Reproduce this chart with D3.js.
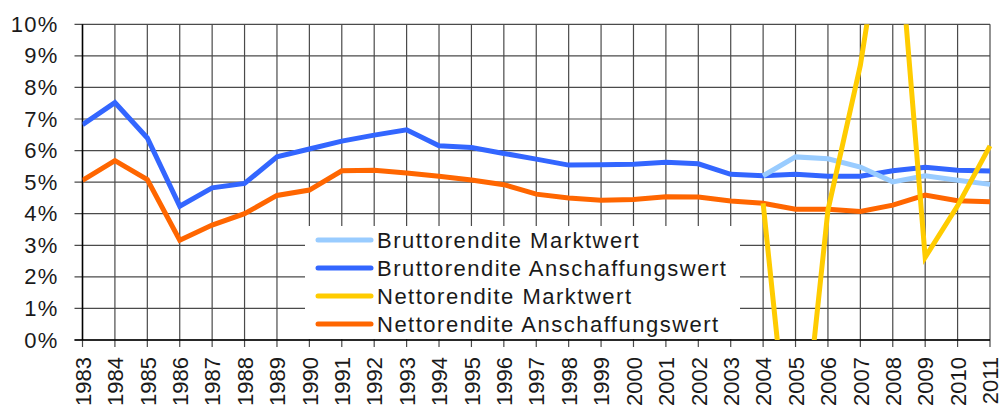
<!DOCTYPE html>
<html>
<head>
<meta charset="utf-8">
<script src="https://cdn.jsdelivr.net/npm/d3@7"></script>
<style>
  html, body { margin: 0; padding: 0; background: #fff; }
  svg { display: block; font-family: "Liberation Sans", Arial, sans-serif; }
</style>
</head>
<body>
<svg id="chart" width="999" height="405"></svg>
<script>
const years = d3.range(1983, 2012).map(String);
const yTicks = [0,1,2,3,4,5,6,7,8,9,10];

const bruttoAnschaffung = [6.82, 7.52, 6.4, 4.24, 4.82, 4.96, 5.8, 6.05, 6.3, 6.49, 6.66, 6.15, 6.1, 5.91, 5.73, 5.54, 5.55, 5.57, 5.63, 5.58, 5.25, 5.2, 5.25, 5.19, 5.19, 5.36, 5.47, 5.38, 5.35];
const nettoAnschaffung = [5.06, 5.68, 5.08, 3.16, 3.64, 4.0, 4.58, 4.75, 5.36, 5.38, 5.29, 5.19, 5.07, 4.92, 4.62, 4.5, 4.43, 4.45, 4.54, 4.53, 4.4, 4.33, 4.14, 4.14, 4.07, 4.27, 4.59, 4.41, 4.38];
// Marktwert series only from 2004
const bruttoMarkt = [null,null,null,null,null,null,null,null,null,null,null,null,null,null,null,null,null,null,null,null,null, 5.2, 5.8, 5.74, 5.48, 5.01, 5.2, 5.06, 4.93];
const nettoMarkt = [null,null,null,null,null,null,null,null,null,null,null,null,null,null,null,null,null,null,null,null,null, 4.33, -5.6, 4.11, 8.7, 15.2, 2.62, 4.25, 6.15];

const seriesNames = ["Bruttorendite Marktwert", "Bruttorendite Anschaffungswert", "Nettorendite Marktwert", "Nettorendite Anschaffungswert"];
const seriesValues = [bruttoMarkt, bruttoAnschaffung, nettoMarkt, nettoAnschaffung];
const seriesColors = ["#99ccff", "#3366ff", "#ffcc00", "#ff6600"];
// draw order: blue first, then light blue, orange, yellow
const drawOrder = [1, 0, 3, 2];

const svg = d3.select("#chart");
const x0 = 82.5, x1 = 990, yTop = 24.3, yBot = 340;
const x = d3.scalePoint().domain(years).range([x0, x1]);
const y = d3.scaleLinear().domain([0, 10]).range([yBot, yTop]);

// grid
const grid = svg.append("g");
grid.selectAll("line.h").data(yTicks).join("line")
  .attr("x1", x0 - 8).attr("x2", x1)
  .attr("y1", d => y(d)).attr("y2", d => y(d))
  .attr("stroke", "#4a4a4a").attr("stroke-width", 1.2);
grid.selectAll("line.v").data(years).join("line")
  .attr("x1", d => x(d)).attr("x2", d => x(d))
  .attr("y1", yTop).attr("y2", yBot + 7)
  .attr("stroke", "#4a4a4a").attr("stroke-width", 1.2);

// y axis labels
const yAxis = d3.axisLeft(y).tickValues(yTicks).tickFormat(d => d + "%").tickSize(0).tickPadding(24);
const gy = svg.append("g").attr("transform", `translate(${x0},0)`).call(yAxis);
gy.select(".domain").remove();
gy.selectAll("text").style("font-size", "22px").style("letter-spacing", "1.2px").attr("fill", "#1a1a1a");

// x axis labels
const xAxis = d3.axisBottom(x).tickSize(0);
const gx = svg.append("g").attr("transform", `translate(0,${yBot})`).call(xAxis);
gx.select(".domain").remove();
gx.selectAll("text")
  .attr("x", -17).attr("y", 0).attr("dy", "0.35em")
  .attr("transform", "rotate(-90)")
  .style("text-anchor", "end")
  .style("font-size", "22px").attr("fill", "#1a1a1a");

// axis lines
svg.append("line").attr("x1", x0).attr("x2", x0).attr("y1", yTop).attr("y2", yBot)
  .attr("stroke", "#000").attr("stroke-width", 1.5);
svg.append("line").attr("x1", x0 - 8).attr("x2", x1).attr("y1", yBot).attr("y2", yBot)
  .attr("stroke", "#000").attr("stroke-width", 1.5);

// legend background
const legX = 305, legY = 226;
svg.append("rect").attr("x", legX).attr("y", legY).attr("width", 435).attr("height", yBot - legY - 1)
  .attr("fill", "#fff");

// clip
svg.append("clipPath").attr("id", "plotclip").append("rect")
  .attr("x", x0).attr("y", yTop).attr("width", x1 - x0 + 5).attr("height", yBot - yTop);

const line = d3.line()
  .defined(d => d != null)
  .x((d, i) => x(years[i]))
  .y(d => y(d));

const lines = svg.append("g").attr("clip-path", "url(#plotclip)");
drawOrder.forEach(k => {
  lines.append("path")
    .datum(seriesValues[k])
    .attr("d", line)
    .attr("fill", "none")
    .attr("stroke", seriesColors[k])
    .attr("stroke-width", 5)
    .attr("stroke-linejoin", "miter");
});

// legend
const leg = svg.append("g");
seriesNames.forEach((name, i) => {
  const cy = 240 + i * 28;
  leg.append("line").attr("x1", 318).attr("x2", 371).attr("y1", cy).attr("y2", cy)
    .attr("stroke", seriesColors[i]).attr("stroke-width", 5).attr("stroke-linecap", "round");
  leg.append("text").attr("x", 377).attr("y", cy).attr("dy", "0.35em")
    .style("font-size", "22px").style("letter-spacing", "1.5px").attr("fill", "#1a1a1a").text(name);
});
</script>
</body>
</html>
